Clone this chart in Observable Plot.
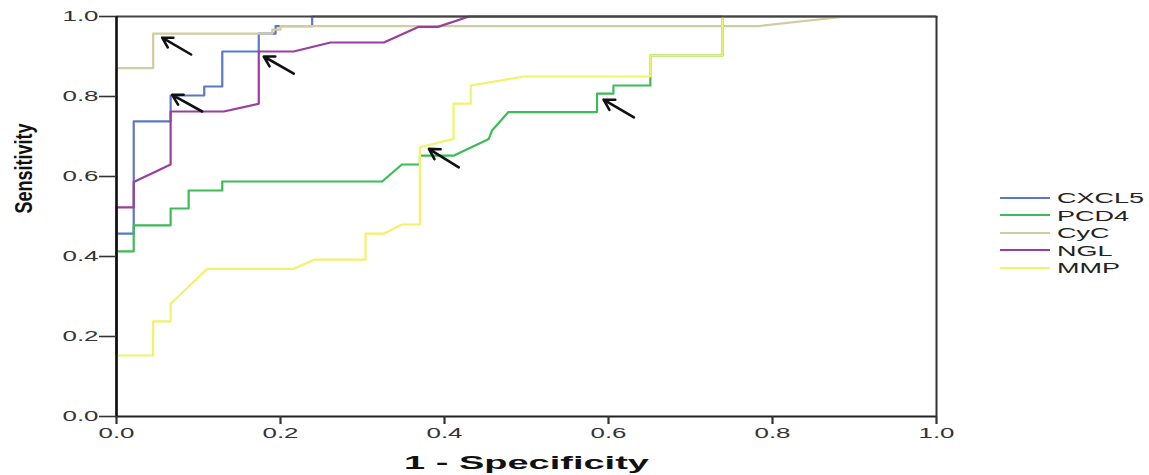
<!DOCTYPE html>
<html><head><meta charset="utf-8">
<script src="https://cdn.jsdelivr.net/npm/d3@7"></script>
<script src="https://cdn.jsdelivr.net/npm/@observablehq/plot@0.6"></script>
<style>
body{margin:0;background:#fff;}
#wrap{position:relative;width:1149px;height:475px;overflow:hidden;font-family:"Liberation Sans",Arial,sans-serif;background:#fff;}
#legend{position:absolute;left:1000px;top:189px;}
.row{height:17.5px;display:flex;align-items:center;}
.sw{width:50px;height:2px;margin-right:7px;flex:none;}
.lab{font-size:15px;color:#222;display:inline-block;transform:scaleX(1.8);transform-origin:left center;line-height:17.5px;white-space:nowrap;}
</style></head><body><div id="wrap"><div id="chart"></div><div id="legend"></div></div>
<script>
const seriesNames = ["CXCL5","PCD4","CyC","NGL","MMP"];
const seriesColors = ["#5b78c8","#3dbb57","#d0cca2","#9a3d9e","#f2f26a"];
const xTicks = [0,0.2,0.4,0.6,0.8,1.0];
const yTicks = [0,0.2,0.4,0.6,0.8,1.0];

const cxcl5X = [0,0,0.021,0.021,0.066,0.066,0.107,0.107,0.129,0.129,0.1735,0.1735,0.194,0.194,0.2386,0.2386,1];
const cxcl5Y = [0,0.457,0.457,0.738,0.738,0.8025,0.8025,0.825,0.825,0.9125,0.9125,0.957,0.957,0.976,0.976,1,1];

const pcd4X = [0,0,0.021,0.021,0.066,0.066,0.088,0.088,0.129,0.129,0.324,0.348,0.37,0.37,0.411,0.454,0.458,0.478,0.586,0.586,0.606,0.606,0.651,0.651,0.739,0.739,1];
const pcd4Y = [0,0.413,0.413,0.478,0.478,0.52,0.52,0.565,0.565,0.5875,0.5875,0.63,0.63,0.652,0.652,0.694,0.715,0.761,0.761,0.807,0.807,0.8275,0.8275,0.9025,0.9025,1,1];

const cycX = [0,0,0.0447,0.0447,0.19,0.19,0.2,0.2,0.783,0.89,1];
const cycY = [0,0.871,0.871,0.957,0.957,0.967,0.967,0.976,0.976,1,1];

const nglX = [0,0,0.021,0.021,0.066,0.066,0.131,0.1735,0.1735,0.216,0.261,0.326,0.368,0.392,0.43,1];
const nglY = [0,0.523,0.523,0.586,0.63,0.7625,0.7625,0.782,0.9125,0.9125,0.935,0.935,0.974,0.974,1,1];

const mmpX = [0,0,0.0447,0.0447,0.066,0.066,0.1106,0.216,0.2406,0.3037,0.3037,0.326,0.348,0.37,0.37,0.411,0.411,0.432,0.432,0.4966,0.651,0.651,0.739,0.739,1];
const mmpY = [0,0.1525,0.1525,0.238,0.238,0.282,0.369,0.369,0.392,0.392,0.457,0.457,0.48,0.48,0.673,0.694,0.782,0.782,0.8275,0.85,0.85,0.9025,0.9025,1,1];

const arrowTailX = [0.091,0.2162,0.1045,0.4174,0.631];
const arrowTailY = [0.905,0.857,0.7625,0.623,0.748];
const arrowTipX = [0.0557,0.1796,0.0679,0.381,0.594];
const arrowTipY = [0.947,0.90,0.804,0.669,0.792];

const seriesX = [cxcl5X,pcd4X,cycX,nglX,mmpX];
const seriesY = [cxcl5Y,pcd4Y,cycY,nglY,mmpY];
const rows = [];
seriesNames.forEach((s,k)=>{ seriesX[k].forEach((x,i)=>rows.push({series:s,x,y:seriesY[k][i]})); });
const arrows = arrowTailX.map((x1,i)=>({x1,y1:arrowTailY[i],x2:arrowTipX[i],y2:arrowTipY[i]}));

const plot = Plot.plot({
  width:1149, height:475, marginLeft:116, marginRight:213, marginTop:16, marginBottom:59,
  x:{domain:[0,1]}, y:{domain:[0,1]},
  color:{domain:seriesNames, range:seriesColors},
  style:{fontFamily:"'Liberation Sans', Arial, sans-serif", background:"#fff", overflow:"visible"},
  marks:[
    Plot.line(rows,{x:"x",y:"y",z:"series",stroke:"series",strokeWidth:2.2,curve:"linear"}),
    Plot.arrow(arrows,{x1:"x1",y1:"y1",x2:"x2",y2:"y2",stroke:"#111",strokeWidth:2.6,headLength:10}),
    Plot.ruleY([1],{stroke:"#444",strokeWidth:2}),
    Plot.ruleX([1],{stroke:"#333",strokeWidth:2}),
    Plot.ruleY([0],{stroke:"#222",strokeWidth:2}),
    Plot.ruleX([0],{stroke:"#111",strokeWidth:2.6}),
    Plot.axisX({ticks:xTicks,tickSize:8,tickPadding:4,tickFormat:d=>d.toFixed(1),fontSize:14,color:"#333",strokeWidth:2.2,label:null}),
    Plot.axisY({ticks:yTicks,tickSize:17,tickPadding:1,tickFormat:d=>d.toFixed(1),fontSize:14,color:"#333",strokeWidth:1.6,label:null}),
    Plot.text(["1 - Specificity"],{text:d=>d,frameAnchor:"bottom",dy:52,fontSize:19,fontWeight:"bold",fill:"#111"}),
    Plot.text(["Sensitivity"],{text:d=>d,frameAnchor:"left",dx:-92,dy:-3,rotate:-90,fontSize:20,fontWeight:"bold",fill:"#111"})
  ]
});
document.getElementById("chart").appendChild(plot);

function stretch(el, sx, sy){
  let t = el.getAttribute("transform");
  if(!t){
    const x = el.getAttribute("x")||0, y = el.getAttribute("y")||0;
    el.setAttribute("x",0); el.setAttribute("y",0);
    t = `translate(${x},${y})`;
  }
  el.setAttribute("transform", t + ` scale(${sx},${sy})`);
}
d3.select(plot).selectAll("text").each(function(){
  const s = this.textContent;
  if (s === "1 - Specificity") stretch(this, 2.0, 1);
  else if (s === "Sensitivity") stretch(this, 0.9, 1.15);
  else if (/^\d\.\d$/.test(s)) stretch(this, 1.85, 1);
});

const lg = document.getElementById("legend");
seriesNames.forEach((s,i)=>{
  const r = document.createElement("div"); r.className="row";
  const sw = document.createElement("div"); sw.className="sw"; sw.style.background=seriesColors[i];
  const lb = document.createElement("span"); lb.className="lab"; lb.textContent=s;
  r.appendChild(sw); r.appendChild(lb); lg.appendChild(r);
});
</script></body></html>
